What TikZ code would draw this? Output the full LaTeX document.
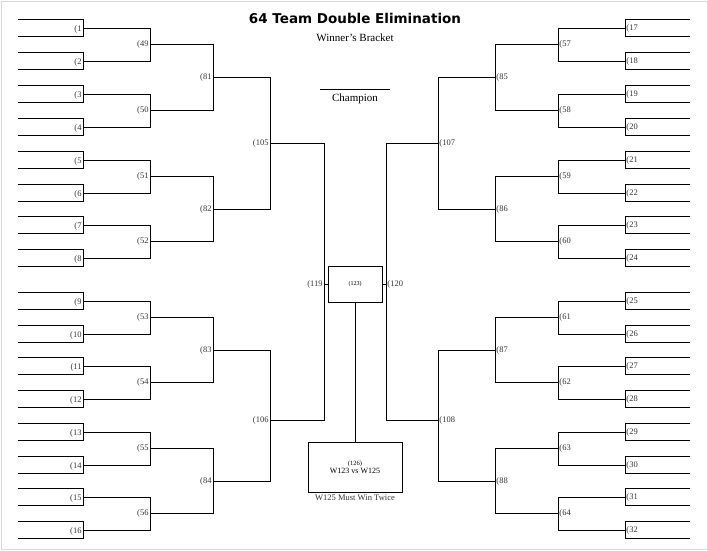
\documentclass[tikz,border=0pt]{standalone}
\usepackage{fontspec}
\setmainfont{Liberation Serif}
\newfontfamily\titlefont{DejaVu Sans}
\begin{document}
\begin{tikzpicture}[x=1pt,y=-1pt,line width=0.85pt,
 lab/.style={font=\fontsize{8.5}{8.5}\selectfont,inner sep=0.5pt,text=black!80},
 br/.style={draw=black,line join=miter}]
\useasboundingbox (0,0) rectangle (708,550);
\draw[black!15,line width=0.8pt] (1,1) rectangle (707,549);
\node (title) at (355,18) {\titlefont\fontsize{13.5}{15}\selectfont\bfseries 64 Team Double Elimination};
\node (sub) at (355,38) {\fontsize{11}{12}\selectfont Winner's Bracket};
\coordinate (cl) at (320,89); \coordinate (cr) at (390,89);
\draw[line width=0.8pt] (cl) -- (cr);
\node (champ) at (355,98.5) {\fontsize{11}{12}\selectfont Champion};
% first round slots
\foreach \y [count=\i] in {28,61,94,127,160,193,225,258,301,334,366,399,432,465,497,530}{
  \pgfmathtruncatemacro\j{\i+16}
  \draw[br] (18,\y-9) -- (83,\y-9) -- (83,\y+8) -- (18,\y+8);
  \node[lab,anchor=east] (L\i) at (82.5,\y+1) {(\i};
  \draw[br] (690,\y-9) -- (625,\y-9) -- (625,\y+8) -- (690,\y+8);
  \node[lab,anchor=west] (R\i) at (625.5,\y) {(\j};
}
% matches
\foreach \xa/\xb/\ya/\yb/\n/\m in {
 83/150/28/61/49/57, 83/150/94/127/50/58, 83/150/160/193/51/59, 83/150/225/258/52/60,
 83/150/301/334/53/61, 83/150/366/399/54/62, 83/150/432/465/55/63, 83/150/497/530/56/64,
 150/213/44.5/110.5/81/85, 150/213/176.5/241.5/82/86, 150/213/317.5/382.5/83/87, 150/213/448.5/513.5/84/88}{
  \draw[br] (\xa,\ya) -- (\xb,\ya) -- (\xb,\yb) -- (\xa,\yb);
  \node[lab,anchor=east] (m\n) at (\xb-0.5,{(\ya+\yb)/2}) {(\n};
  \draw[br] (708-\xa,\ya) -- (708-\xb,\ya) -- (708-\xb,\yb) -- (708-\xa,\yb);
  \node[lab,anchor=west] (m\m) at (708-\xb+0.5,{(\ya+\yb)/2}) {(\m};
}
\foreach \ya/\yb/\ym/\n/\m in {77.5/209/143.25/105/107, 350/481/420/106/108}{
  \draw[br] (213,\ya) -- (270,\ya) -- (270,\yb) -- (213,\yb);
  \node[lab,anchor=east] (m\n) at (269.5,\ym) {(\n};
  \draw[br] (495,\ya) -- (438,\ya) -- (438,\yb) -- (495,\yb);
  \node[lab,anchor=west] (m\m) at (438.5,\ym) {(\m};
}
% finals
\draw[br] (270,143.25) -- (324,143.25) -- (324,420) -- (270,420);
\draw[br] (438,143.25) -- (386,143.25) -- (386,420) -- (438,420);
\node[draw,line width=0.85pt,minimum width=54pt,minimum height=36pt,inner sep=0pt] (b123) at (355,284) {\fontsize{6}{6}\selectfont(123)};
\draw[br] (324,284) -- (b123.west);
\draw[br] (386,284) -- (b123.east);
\node[lab,anchor=east] (m119) at (323.5,284) {(119};
\node[lab,anchor=west] (m120) at (386.5,284) {(120};
\node[draw,line width=0.85pt,minimum width=94pt,minimum height=50pt,inner sep=0pt,align=center,font=\fontsize{8}{8}\selectfont] (b126) at (355,467) {{\fontsize{6.5}{6}\selectfont(126)}\\W123 vs W125};
\draw[br] (b123.south) -- (b126.north);
\node[lab] (twice) at (355,498) {W125 Must Win Twice};
\end{tikzpicture}
\end{document}
